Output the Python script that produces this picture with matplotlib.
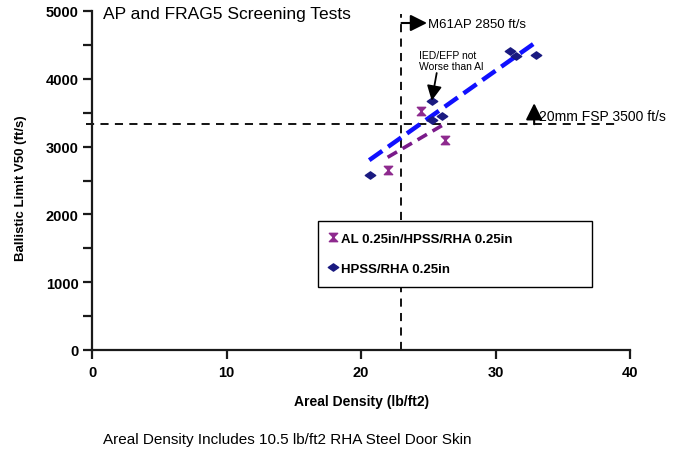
import matplotlib
matplotlib.use("Agg")
import matplotlib.pyplot as plt
from matplotlib.path import Path
import numpy as np

plt.rcParams['font.family'] = ['Liberation Sans', 'DejaVu Sans']

# Data
hpss_x = [20.67, 25.3, 25.3, 26.0, 31.06, 31.55, 33.0]
hpss_y = [2585, 3678, 3397, 3447, 4407, 4343, 4353]
al_x = [22.0, 24.45, 26.24]
al_y = [2659, 3530, 3093]
hpss_trend_x = [20.6, 33.07]
hpss_trend_y = [2800, 4550]
al_trend_x = [21.97, 26.43]
al_trend_y = [2842, 3359]
m61_x = 23.0
fsp_y = 3330

series_labels = ["AL 0.25in/HPSS/RHA 0.25in", "HPSS/RHA 0.25in"]
title = "AP and FRAG5 Screening Tests"
footnote = "Areal Density Includes 10.5 lb/ft2 RHA Steel Door Skin"

x_ticks = [0, 10, 20, 30, 40]
y_ticks = [0, 1000, 2000, 3000, 4000, 5000]

diamond = Path([(-1, 0), (0, 0.7), (1, 0), (0, -0.7), (-1, 0)],
               [Path.MOVETO, Path.LINETO, Path.LINETO, Path.LINETO, Path.CLOSEPOLY])
hourglass = Path([(-1, 1), (1, 1), (-1, -1), (1, -1), (-1, 1)],
                 [Path.MOVETO, Path.LINETO, Path.LINETO, Path.LINETO, Path.CLOSEPOLY])

fig = plt.figure(figsize=(6.86, 4.52), dpi=100)
ax = fig.add_axes([92.3/686, 1-351/452, (630-92.3)/686, (351-12)/452])

navy = '#1a1a80'
magenta = '#8e2a8e'

# reference lines
ax.plot([m61_x, m61_x], [0, 4960], color='black', lw=1.3, dashes=(4.5, 3.5), zorder=1)
ax.plot([-0.46, 39.0], [fsp_y, fsp_y], color='black', lw=1.3, dashes=(4.5, 3.5),
        zorder=1, clip_on=False)

# trend lines
ax.plot(hpss_trend_x, hpss_trend_y, color='#1010ff', lw=3.2, dashes=(3.6, 1.6),
        solid_capstyle='butt', zorder=2)
ax.plot(al_trend_x, al_trend_y, color='#7a1a8a', lw=2.6, dashes=(3.0, 1.8), zorder=2)

# data
ax.plot(al_x, al_y, linestyle='none', marker=hourglass, markersize=6,
        color=magenta, markeredgecolor=magenta, label=series_labels[0], zorder=3)
ax.plot(hpss_x, hpss_y, linestyle='none', marker=diamond, markersize=7.5,
        color=navy, markeredgecolor=navy, label=series_labels[1], zorder=3)

ax.set_xlim(0, 40)
ax.set_ylim(0, 5000)
ax.set_xticks(x_ticks)
ax.set_yticks(y_ticks)
ax.set_yticks(np.arange(500, 5000, 1000), minor=True)
for s in ['top', 'right']:
    ax.spines[s].set_visible(False)
for s in ['left', 'bottom']:
    ax.spines[s].set_linewidth(1.6)
    ax.spines[s].set_color('#1a1a1a')
ax.tick_params(axis='both', which='both', direction='out', length=6.5, width=1.6,
               color='#1a1a1a')
ax.tick_params(axis='x', pad=4.5)
ax.tick_params(axis='y', pad=3.3)
for lab in ax.get_xticklabels() + ax.get_yticklabels():
    lab.set_fontweight('bold')
    lab.set_fontsize(10.5)

ax.set_xlabel("Areal Density (lb/ft2)", fontweight='bold', fontsize=10)
ax.xaxis.set_label_coords(0.5, -0.15)
ax.xaxis.label.set_va('center')
ax.set_ylabel("Ballistic Limit V50 (ft/s)", fontweight='bold', fontsize=9.5)
ax.yaxis.set_label_coords(-0.133, 0.479)
ax.yaxis.label.set_va('center')

# title and annotations
ax.text(0.8, 4956, title, fontsize=12.5, va='center', ha='left')
ax.annotate("", xy=(24.9, 4823), xytext=(m61_x, 4823),
            arrowprops=dict(arrowstyle='-|>,head_length=1.0,head_width=0.5',
                            color='black', lw=1.5, shrinkA=0, shrinkB=0))
ax.text(24.95, 4808, "M61AP 2850 ft/s", fontsize=9.5, va='center', ha='left')
ax.annotate("", xy=(32.87, 3640), xytext=(32.87, fsp_y),
            arrowprops=dict(arrowstyle='-|>,head_length=1.0,head_width=0.5',
                            color='black', lw=1.5, shrinkA=0, shrinkB=0))
ax.text(33.24, 3456, "20mm FSP 3500 ft/s", fontsize=10, va='center', ha='left')
ax.text(24.33, 4270, "IED/EFP not\nWorse than Al", fontsize=7.5, va='center',
        ha='left', linespacing=1.1)
ax.annotate("", xy=(25.25, 3677), xytext=(25.62, 4085),
            arrowprops=dict(arrowstyle='-|>,head_length=0.9,head_width=0.45',
                            color='black', lw=1.3, shrinkA=0, shrinkB=0))

leg = ax.legend(loc='lower left', bbox_to_anchor=(0.42, 0.186, 0.509, 0.192),
                mode='expand', frameon=True, fancybox=False, borderpad=0.9,
                handlelength=0.5, handletextpad=0.3, labelspacing=1.35,
                prop={'weight': 'bold', 'size': 9.5}, borderaxespad=0)
leg.get_frame().set_edgecolor('black')
leg.get_frame().set_linewidth(1.0)
leg.get_frame().set_alpha(1)

fig.text(103/686, 1-440/452, footnote, fontsize=11, va='center', ha='left')

fig.savefig("out.png", dpi=100, facecolor='white')
